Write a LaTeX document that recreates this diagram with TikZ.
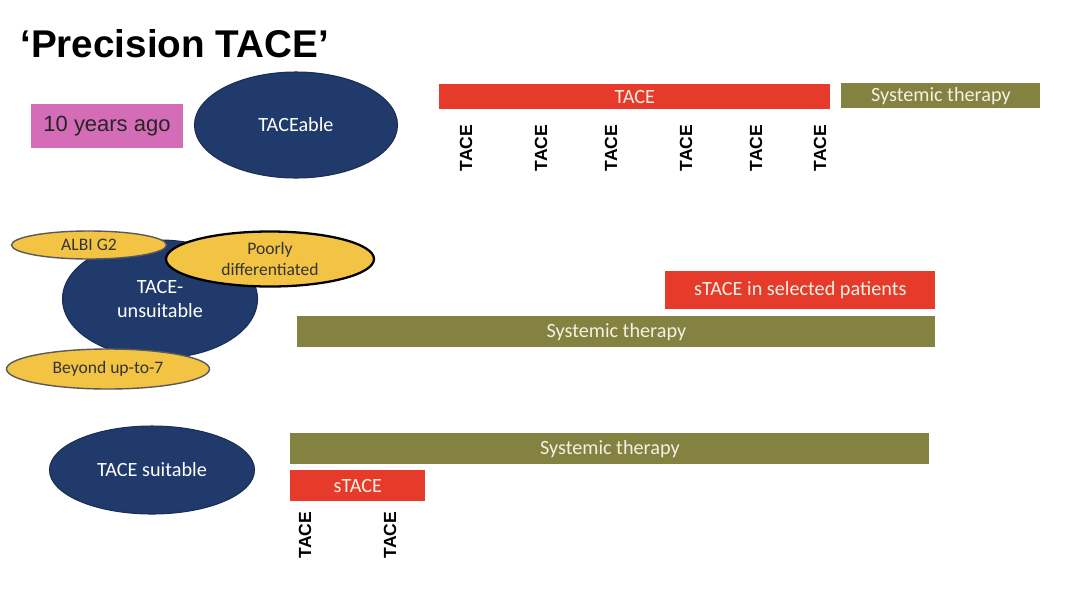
\documentclass[tikz,border=0pt]{standalone}
\usepackage{fontspec}
\setmainfont{Carlito}
\newfontfamily\arialfont{Liberation Sans}
\usetikzlibrary{positioning, shapes.geometric}
\usepackage{xcolor}
\definecolor{tacered}{HTML}{E63B2A}
\definecolor{sysolive}{HTML}{838240}
\definecolor{navy}{HTML}{203A6C}
\definecolor{gold}{HTML}{F3C444}
\definecolor{pinkbox}{HTML}{D46CB7}
\definecolor{bartext}{HTML}{F4F1E4}
\tikzset{
  bar/.style={rectangle, anchor=north west, inner sep=0pt, text=bartext,
              font=\fontsize{11.5}{13}\selectfont},
  redbar/.style={bar, fill=tacered},
  olivebar/.style={bar, fill=sysolive},
  blob/.style={ellipse, inner sep=0pt, align=center, fill=navy, draw=navy!80!black,
               line width=0.6pt, text=white, font=\fontsize{11.5}{13.5}\selectfont},
  crit/.style={ellipse, inner sep=0pt, align=center, fill=gold, draw=black!65,
               line width=0.8pt, text=black!80, font=\fontsize{10}{11.5}\selectfont},
  vlabel/.style={rotate=90, inner sep=0pt, font=\arialfont\bfseries\fontsize{10}{12}\selectfont},
}

\begin{document}
\begin{tikzpicture}[x=0.2mm, y=-0.2mm]

\useasboundingbox (0,0) rectangle (1080,611);

%% ====================  TITLE  ====================

\node[anchor=base west, inner sep=0pt, font=\arialfont\bfseries\fontsize{22}{25}\selectfont]
  (title) at (20,57) {‘Precision TACE’};

%% ====================  ROW 1: 10 YEARS AGO  ====================

\node[fill=pinkbox, minimum width=30.4mm, minimum height=8.8mm, inner sep=0pt,
      text=black!85, font=\arialfont\fontsize{12.5}{14}\selectfont]
  (ago) at (107,126) {10 years ago};

\node[blob, minimum width=40.6mm, minimum height=21.2mm] (taceable) at (296,125) {TACEable};

\node[redbar, minimum width=78.2mm, minimum height=5mm] (tace_top) at (439,84) {TACE};
\node[olivebar, minimum width=39.8mm, minimum height=5mm] (sys_top) at (841,83) {Systemic therapy};

\node[vlabel] (t_a) at (466,148) {TACE};
\node[vlabel] (t_b) at (541,148) {TACE};
\node[vlabel] (t_c) at (611,148) {TACE};
\node[vlabel] (t_d) at (686,148) {TACE};
\node[vlabel] (t_e) at (756,148) {TACE};
\node[vlabel] (t_f) at (820,148) {TACE};

%% ====================  ROW 2: TACE-UNSUITABLE  ====================

\node[blob, minimum width=39mm, minimum height=23.6mm] (unsuit) at (160,299) {TACE-\\unsuitable};

\node[crit, minimum width=31mm, minimum height=5.6mm] (albi) at (89,245) {ALBI G2};
\node[crit, draw=black, line width=1.3pt, minimum width=41.6mm, minimum height=11mm]
  (poorly) at (270,259) {Poorly\\differentiated};
\node[crit, minimum width=40.6mm, minimum height=8mm] (upto7) at (108,369) {Beyond up-to-7};

\node[redbar, minimum width=54mm, minimum height=7.6mm] (stace_sel) at (665,271) {sTACE in selected patients};
\node[olivebar, minimum width=127.6mm, minimum height=6.2mm] (sys_mid) at (297,316) {Systemic therapy};

%% ====================  ROW 3: TACE SUITABLE  ====================

\node[blob, minimum width=41mm, minimum height=17.6mm] (suit) at (152,470) {TACE suitable};

\node[olivebar, minimum width=127.8mm, minimum height=6.2mm] (sys_bot) at (290,433) {Systemic therapy};
\node[redbar, minimum width=27mm, minimum height=6.2mm] (stace_bot) at (290,470) {sTACE};

\node[vlabel] (t_g) at (305,535) {TACE};
\node[vlabel] (t_h) at (390,535) {TACE};

\end{tikzpicture}
\end{document}
